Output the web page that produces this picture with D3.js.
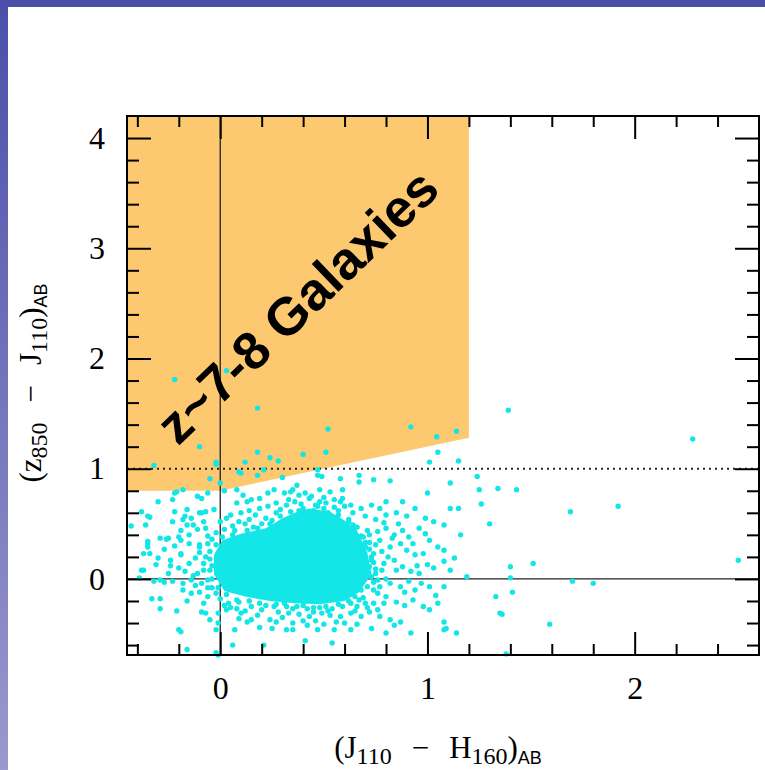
<!DOCTYPE html>
<html>
<head>
<meta charset="utf-8">
<script src="https://cdnjs.cloudflare.com/ajax/libs/d3/7.8.5/d3.min.js"></script>
<style>
  html, body { margin: 0; padding: 0; background: #fff; }
  svg { display: block; }
</style>
</head>
<body>
<div id="graphCard"></div>
<script>

// ---- data ----

// x ticks (J110 - H160)
var xMajor = [0, 1, 2];
var xMinor = [-0.4, -0.2, 0.2, 0.4, 0.6, 0.8, 1.2, 1.4, 1.6, 1.8, 2.2, 2.4];
// y ticks (z850 - J110)
var yMajor = [0, 1, 2, 3, 4];
var yMinor = [-0.6, -0.4, -0.2, 0.2, 0.4, 0.6, 0.8, 1.2, 1.4, 1.6, 1.8,
              2.2, 2.4, 2.6, 2.8, 3.2, 3.4, 3.6, 3.8];

// selection window for z~7-8 galaxies
var zoneEdge = [[-0.45, 0.8], [0, 0.8], [1.2, 1.28], [1.2, 4.2], [-0.45, 4.2]];

// saturated centre of the cloud of sources
var coreOutline = [
  [-0.03, 0.22], [0.01, 0.35], [0.10, 0.41], [0.22, 0.46], [0.30, 0.55],
  [0.36, 0.60], [0.43, 0.64], [0.53, 0.61], [0.60, 0.53], [0.66, 0.44],
  [0.71, 0.24], [0.73, 0.04], [0.67, -0.12], [0.60, -0.20], [0.48, -0.23],
  [0.36, -0.22], [0.24, -0.20], [0.12, -0.16], [0.02, -0.11], [-0.03, 0.04]
];

// isolated sources
var outliers = [
  [-0.22, 1.81], [0.03, 1.89], [0.18, 1.55], [1.39, 1.53], [2.28, 1.27],
  [-0.10, 1.20], [0.52, 1.36], [0.92, 1.38], [1.045, 1.29], [1.14, 1.34],
  [0.18, 1.15], [0.40, 1.13], [0.51, 1.15], [0.24, 1.10], [1.05, 1.15],
  [-0.32, 1.03], [-0.02, 1.06], [0.12, 1.06], [0.28, 1.07], [0.21, 0.99],
  [0.09, 0.97], [0.18, 0.94], [1.01, 1.06], [1.15, 1.07], [0.47, 0.99],
  [-0.05, 0.91], [0.0, 0.87], [1.24, 0.93], [1.11, 0.87], [1.34, 0.82],
  [1.43, 0.81], [1.26, 0.68], [1.30, 0.50], [1.16, 0.40], [1.00, 0.78],
  [1.11, 0.64], [-0.02, 1.04], [0.10, 0.96], [0.30, 0.92], [1.25, 0.81],
  [1.69, 0.61], [1.92, 0.66], [2.50, 0.17], [1.51, 0.14], [1.40, 0.11],
  [1.70, -0.02], [1.80, -0.04], [1.40, 0.01], [1.19, 0.02], [1.41, -0.12],
  [1.33, -0.16], [1.36, -0.32], [1.59, -0.41], [1.38, -0.68], [1.14, -0.49],
  [1.08, -0.39], [1.08, -0.46], [1.35, -0.31], [0.92, -0.49], [1.15, 0.64],
  [-0.43, 0.48], [-0.38, 0.61], [-0.30, 0.70], [-0.35, 0.57], [-0.33, -0.18],
  [-0.29, -0.27], [-0.20, -0.46], [-0.16, -0.64], [-0.01, -0.69], [0.06, -0.60],
  [0.21, -0.60], [0.41, -0.56], [0.54, -0.58], [0.07, -0.46], [0.32, -0.46],
  [0.35, -0.46], [-0.21, -0.29], [-0.09, -0.30], [-0.01, -0.40], [-0.39, 0.01],
  [-0.32, -0.02], [-0.27, -0.03], [-0.37, 0.08], [-0.35, 0.32], [-0.34, 0.23],
  [-0.29, 0.37], [-0.26, 0.36], [-0.31, 0.13], [-0.24, 0.17], [-0.19, 0.23],
  [-0.20, 0.38], [-0.17, 0.57], [-0.16, 0.63], [-0.22, 0.78], [-0.18, 0.81],
  [-0.11, 0.75], [-0.09, 0.73], [-0.09, 0.60], [-0.13, 0.49], [-0.07, 0.46],
  [-0.06, 0.39], [-0.10, 0.29]
];

// sources around the dense centre
var clusterHalo = [
  [-0.21, 0.79], [-0.06, 0.78], [0.02, 0.80], [0.08, 0.81], [0.11, 0.76],
  [0.15, 0.72], [0.19, 0.73], [0.23, 0.78], [0.26, 0.81], [0.31, 0.78],
  [0.35, 0.81], [-0.23, 0.72], [-0.34, 0.56], [-0.22, 0.61], [-0.18, 0.54],
  [-0.14, 0.55], [-0.10, 0.60], [-0.07, 0.61], [-0.03, 0.63], [0.08, 0.69],
  [0.13, 0.70], [0.19, 0.64], [0.23, 0.66], [0.27, 0.69], [0.32, 0.67],
  [-0.36, 0.49], [-0.23, 0.52], [-0.19, 0.44], [-0.16, 0.49], [-0.11, 0.45],
  [-0.08, 0.52], [0.03, 0.55], [0.09, 0.52], [0.14, 0.54], [-0.35, 0.34],
  [-0.35, 0.29], [-0.37, 0.23], [-0.25, 0.37], [-0.19, 0.35], [-0.15, 0.32],
  [-0.10, 0.31], [-0.06, 0.32], [-0.30, 0.19], [-0.24, 0.12], [-0.19, 0.22],
  [-0.15, 0.14], [-0.12, 0.19], [-0.38, 0.08], [-0.20, 0.10], [-0.17, 0.07],
  [-0.11, 0.05], [-0.08, 0.08], [-0.29, -0.01], [-0.23, -0.02], [-0.18, -0.04],
  [-0.14, -0.01], [-0.09, -0.04], [-0.06, -0.01], [-0.29, -0.18], [-0.18, -0.10],
  [-0.14, -0.13], [-0.10, -0.12], [-0.06, -0.16], [-0.07, -0.31], [-0.01, -0.31],
  [0.03, -0.28], [0.08, -0.27], [0.10, -0.31], [0.13, -0.39], [0.15, -0.37],
  [0.24, -0.37], [0.27, -0.39], [-0.05, -0.37], [-0.19, -0.48], [-0.02, -0.46],
  [-0.02, -0.67], [0.26, -0.25], [0.31, -0.22], [0.35, -0.27],
  [0.37, 0.85], [0.34, 0.79], [0.38, 0.76], [0.47, 0.94], [0.49, 0.93],
  [0.58, 0.91], [0.67, 0.94], [0.67, 0.88], [0.74, 0.90], [0.82, 0.89],
  [0.48, 0.81], [0.53, 0.79], [0.59, 0.81], [0.59, 0.73], [0.43, 0.73],
  [0.48, 0.70], [0.51, 0.69], [0.55, 0.72], [0.63, 0.67], [0.68, 0.64],
  [0.73, 0.67], [0.77, 0.64], [0.80, 0.70], [0.88, 0.70], [0.94, 0.64],
  [0.70, 0.57], [0.75, 0.54], [0.80, 0.58], [0.85, 0.60], [0.90, 0.57],
  [0.99, 0.55], [1.03, 0.52], [1.08, 0.49], [0.96, 0.46], [0.99, 0.41],
  [0.66, 0.47], [0.71, 0.44], [0.76, 0.43], [0.80, 0.46], [0.84, 0.40],
  [0.88, 0.44], [0.91, 0.38], [1.01, 0.35], [1.05, 0.29], [1.08, 0.26],
  [1.13, 0.19], [0.77, 0.35], [0.82, 0.29], [0.87, 0.32], [0.90, 0.26],
  [0.94, 0.22], [0.98, 0.23], [1.00, 0.13], [1.03, 0.10], [1.08, 0.16],
  [1.11, 0.08], [0.79, 0.14], [0.84, 0.17], [0.88, 0.11], [0.92, 0.07],
  [0.96, 0.05], [0.97, -0.04], [1.01, -0.07], [1.08, -0.07], [1.04, -0.15],
  [0.82, -0.04], [0.87, -0.07], [0.91, -0.02], [0.94, -0.10], [0.80, -0.16],
  [0.85, -0.21], [0.89, -0.24], [0.93, -0.19], [0.98, -0.25], [1.01, -0.28],
  [1.05, -0.22], [0.74, -0.22], [0.76, -0.28], [0.77, -0.34], [0.82, -0.37],
  [0.87, -0.39], [0.84, -0.42], [1.09, -0.45], [0.80, -0.49], [0.73, -0.45],
  [0.63, -0.46], [0.55, -0.46], [0.47, -0.46], [0.42, -0.42], [0.68, -0.34],
  [0.63, -0.31], [0.58, -0.34], [0.53, -0.33], [0.49, -0.31], [0.43, -0.34],
  [0.71, -0.26], [0.66, -0.25], [0.59, -0.25], [0.54, -0.27], [0.48, -0.26],
  [0.42, -0.27], [0.37, -0.25], [0.58, 0.51], [0.62, 0.41], [0.66, 0.35],
  [0.70, 0.29], [0.74, 0.23], [0.63, 0.23], [0.67, 0.17], [0.72, 0.11],
  [0.60, 0.08], [0.66, -0.01], [0.71, -0.07], [0.61, -0.13], [0.67, -0.19],
  [0.56, -0.16], [0.76, -0.01], [0.76, -0.13],
  [0.02, 0.45], [0.06, 0.48], [0.12, 0.50], [0.17, 0.58], [0.22, 0.55],
  [0.27, 0.60], [0.30, 0.52], [0.36, 0.70], [0.41, 0.78], [0.45, 0.62],
  [0.52, 0.60], [0.55, 0.65], [0.62, 0.54], [-0.05, 0.25], [-0.04, 0.12],
  [-0.07, 0.20], [-0.04, -0.08], [0.00, -0.18], [0.04, -0.22], [0.09, -0.21],
  [0.15, -0.25], [0.20, -0.28], [0.28, -0.30], [0.33, -0.31], [0.45, -0.30],
  [0.52, -0.29], [0.63, -0.22], [0.69, -0.17], [0.73, 0.02], [0.74, 0.15],
  [0.72, 0.33], [0.69, 0.38], [0.64, 0.49],
  // rim of the dense centre
  [0.00, 0.52], [0.05, 0.58], [0.10, 0.60], [0.14, 0.62], [0.20, 0.50],
  [0.25, 0.53], [0.29, 0.63], [0.33, 0.72], [0.39, 0.68], [0.44, 0.75],
  [0.47, 0.66], [0.50, 0.74], [0.57, 0.62], [0.60, 0.66], [0.64, 0.60],
  [0.58, 0.70], [0.38, 0.62], [0.26, 0.46], [0.16, 0.47], [0.07, 0.44],
  [0.72, 0.40], [0.75, 0.31], [0.78, 0.25], [0.73, 0.20], [0.78, 0.08],
  [0.81, 0.20], [0.75, 0.05], [0.80, 0.00], [0.77, -0.07], [0.74, -0.10],
  [0.79, -0.22], [0.70, -0.22], [0.72, -0.30], [0.85, 0.08], [0.83, 0.37],
  [0.86, 0.50], [0.79, 0.51], [0.93, 0.32], [0.95, 0.12], [0.89, -0.12],
  [0.05, -0.26], [0.12, -0.29], [0.18, -0.33], [0.22, -0.24], [0.30, -0.35],
  [0.38, -0.32], [0.40, -0.38], [0.46, -0.38], [0.50, -0.41], [0.56, -0.39],
  [0.60, -0.40], [0.65, -0.29], [0.19, -0.44], [0.09, -0.36], [0.02, -0.24],
  [0.25, -0.45], [0.35, -0.40], [0.66, -0.41],
  [-0.08, 0.14], [-0.10, 0.24], [-0.13, 0.03], [-0.06, -0.08], [-0.12, -0.06],
  [-0.04, 0.36], [-0.02, -0.13], [-0.08, -0.22], [-0.15, 0.40], [-0.02, 0.42],
  [-0.16, -0.20], [-0.25, 0.05], [-0.27, 0.27], [-0.22, 0.30],
  // sources sitting on the edge of the dense centre
  [0.03, -0.14], [0.08, -0.19], [0.14, -0.20], [0.19, -0.22], [0.27, -0.23],
  [0.32, -0.25], [0.40, -0.24], [0.45, -0.26], [0.51, -0.25], [0.57, -0.23],
  [0.62, -0.20], [0.65, -0.16], [0.68, -0.10], [0.74, -0.03], [0.75, 0.09],
  [0.73, 0.17], [0.72, 0.27], [0.70, 0.33], [0.68, 0.39], [0.65, 0.47],
  [0.62, 0.52], [0.57, 0.58], [0.50, 0.64], [0.46, 0.67], [0.40, 0.64],
  [0.34, 0.61], [0.29, 0.57], [0.24, 0.50], [0.18, 0.46], [0.13, 0.44],
  [0.06, 0.40], [0.01, 0.38], [-0.02, 0.31], [-0.05, 0.18], [-0.05, 0.08],
  [-0.04, 0.00], [-0.01, -0.08]
];

var zoneLabel = "z~7-8 Galaxies";

// ---- drawing ----

var W = 765, H = 770;
var frame = {left: 127, right: 759, top: 116, bottom: 655};
var cyan = "#12e6e6";
var orange = "#fcc971";

var svg = d3.select("#graphCard")
            .append("svg")
            .attr("width", W)
            .attr("height", H);

// slide border (blue strip top and left)
var defs = svg.append("defs");
var grad = defs.append("linearGradient")
    .attr("id", "sideGrad")
    .attr("x1", 0).attr("y1", 0).attr("x2", 0).attr("y2", 1);
grad.append("stop").attr("offset", "0%").attr("stop-color", "#4a4fa9");
grad.append("stop").attr("offset", "100%").attr("stop-color", "#9a98cd");

svg.append("rect").attr("x", 0).attr("y", 0).attr("width", W).attr("height", H).attr("fill", "#fff");
svg.append("rect").attr("x", 0).attr("y", 0).attr("width", 8).attr("height", H).attr("fill", "url(#sideGrad)");
svg.append("rect").attr("x", 0).attr("y", 0).attr("width", W).attr("height", 7).attr("fill", "#4a4fa9");

var x = d3.scaleLinear().domain([-0.45, 2.6]).range([frame.left, frame.right]);
var y = d3.scaleLinear().domain([-0.69, 4.2]).range([frame.bottom, frame.top]);
console.log('x(0)=' + x(0) + ' y(0)=' + y(0));

var plot = svg.append("g");

// selection window
plot.append("path")
    .datum(zoneEdge)
    .attr("d", d3.line().x(function(d) { return x(d[0]); }).y(function(d) { return y(d[1]); }).curve(d3.curveLinearClosed))
    .attr("fill", orange);

// zero lines + the z-J = 1 dotted line
plot.append("line")
    .attr("x1", x(0)).attr("x2", x(0))
    .attr("y1", frame.top).attr("y2", frame.bottom)
    .attr("stroke", "#222").attr("stroke-width", 1.3);
plot.append("line")
    .attr("x1", frame.left).attr("x2", frame.right)
    .attr("y1", y(0)).attr("y2", y(0))
    .attr("stroke", "#222").attr("stroke-width", 1.3);
plot.append("line")
    .attr("x1", frame.left).attr("x2", frame.right)
    .attr("y1", y(1)).attr("y2", y(1))
    .attr("stroke", "#222").attr("stroke-width", 2)
    .attr("stroke-dasharray", "2,4");

// dense centre
plot.append("path")
    .datum(coreOutline)
    .attr("d", d3.line().x(function(d) { return x(d[0]); }).y(function(d) { return y(d[1]); }).curve(d3.curveLinearClosed))
    .attr("fill", cyan);

// sources
plot.selectAll("circle.src")
    .data(outliers.concat(clusterHalo))
    .enter()
    .append("circle")
    .attr("class", "src")
    .attr("cx", function(d) { return x(d[0]); })
    .attr("cy", function(d) { return y(d[1]); })
    .attr("r", 2.7)
    .attr("fill", cyan);

// label in the window
svg.append("text")
    .attr("transform", "translate(297,306) rotate(-44)")
    .attr("text-anchor", "middle")
    .attr("dy", "0.35em")
    .style("font-family", "'Liberation Sans', Arial, sans-serif")
    .style("font-weight", "bold")
    .style("font-size", "53px")
    .attr("fill", "#000")
    .text(zoneLabel);

// ---- axes (ticks point inward, on all four sides) ----
function styleAxis(g) {
    g.select(".domain").remove();
    g.selectAll(".tick line").attr("stroke", "#000").attr("stroke-width", 2);
    g.selectAll(".tick text")
        .attr("fill", "#000")
        .style("font-family", "'Liberation Serif', 'Times New Roman', serif")
        .style("font-size", "32px");
}

var noLabel = function() { return ""; };

svg.append("g").attr("transform", "translate(0," + frame.bottom + ")")
    .call(d3.axisBottom(x).tickValues(xMinor).tickSize(-11).tickFormat(noLabel)).call(styleAxis);
svg.append("g").attr("transform", "translate(0," + frame.bottom + ")")
    .call(d3.axisBottom(x).tickValues(xMajor).tickSize(-23).tickPadding(21).tickFormat(d3.format("d"))).call(styleAxis);
svg.append("g").attr("transform", "translate(0," + frame.top + ")")
    .call(d3.axisTop(x).tickValues(xMinor).tickSize(-11).tickFormat(noLabel)).call(styleAxis);
svg.append("g").attr("transform", "translate(0," + frame.top + ")")
    .call(d3.axisTop(x).tickValues(xMajor).tickSize(-23).tickFormat(noLabel)).call(styleAxis);

svg.append("g").attr("transform", "translate(" + frame.left + ",0)")
    .call(d3.axisLeft(y).tickValues(yMinor).tickSize(-12).tickFormat(noLabel)).call(styleAxis);
var yLab = svg.append("g").attr("transform", "translate(" + frame.left + ",0)")
    .call(d3.axisLeft(y).tickValues(yMajor).tickSize(-24).tickPadding(21).tickFormat(d3.format("d"))).call(styleAxis);
yLab.selectAll(".tick text").attr("text-anchor", "middle").attr("x", -30);
svg.append("g").attr("transform", "translate(" + frame.right + ",0)")
    .call(d3.axisRight(y).tickValues(yMinor).tickSize(-12).tickFormat(noLabel)).call(styleAxis);
svg.append("g").attr("transform", "translate(" + frame.right + ",0)")
    .call(d3.axisRight(y).tickValues(yMajor).tickSize(-24).tickFormat(noLabel)).call(styleAxis);

// frame
svg.append("rect")
    .attr("x", frame.left).attr("y", frame.top)
    .attr("width", frame.right - frame.left).attr("height", frame.bottom - frame.top)
    .attr("fill", "none").attr("stroke", "#000").attr("stroke-width", 2);

// ---- axis titles ----
function axisTitle(t, first, firstSub, second, secondSub) {
    var serif = "'Liberation Serif', 'Times New Roman', serif";
    t.attr("text-anchor", "middle").attr("fill", "#000")
     .style("font-family", serif).style("font-size", "31px");
    t.append("tspan").text("(" + first);
    t.append("tspan").attr("dy", 6).style("font-size", "24px").text(firstSub);
    t.append("tspan").attr("dy", -6).attr("dx", 20).text("\u2212");
    t.append("tspan").attr("dx", 20).text(second);
    t.append("tspan").attr("dy", 6).style("font-size", "24px").text(secondSub);
    t.append("tspan").attr("dy", -6).text(")");
    t.append("tspan").attr("dy", 6)
        .style("font-family", "'Liberation Sans', Arial, sans-serif")
        .style("font-size", "18px").text("AB");
}

axisTitle(svg.append("text").attr("x", 438).attr("y", 758), "J", "110", "H", "160");
axisTitle(svg.append("text").attr("transform", "translate(41,383) rotate(-90)"), "z", "850", "J", "110");

</script>
</body>
</html>
